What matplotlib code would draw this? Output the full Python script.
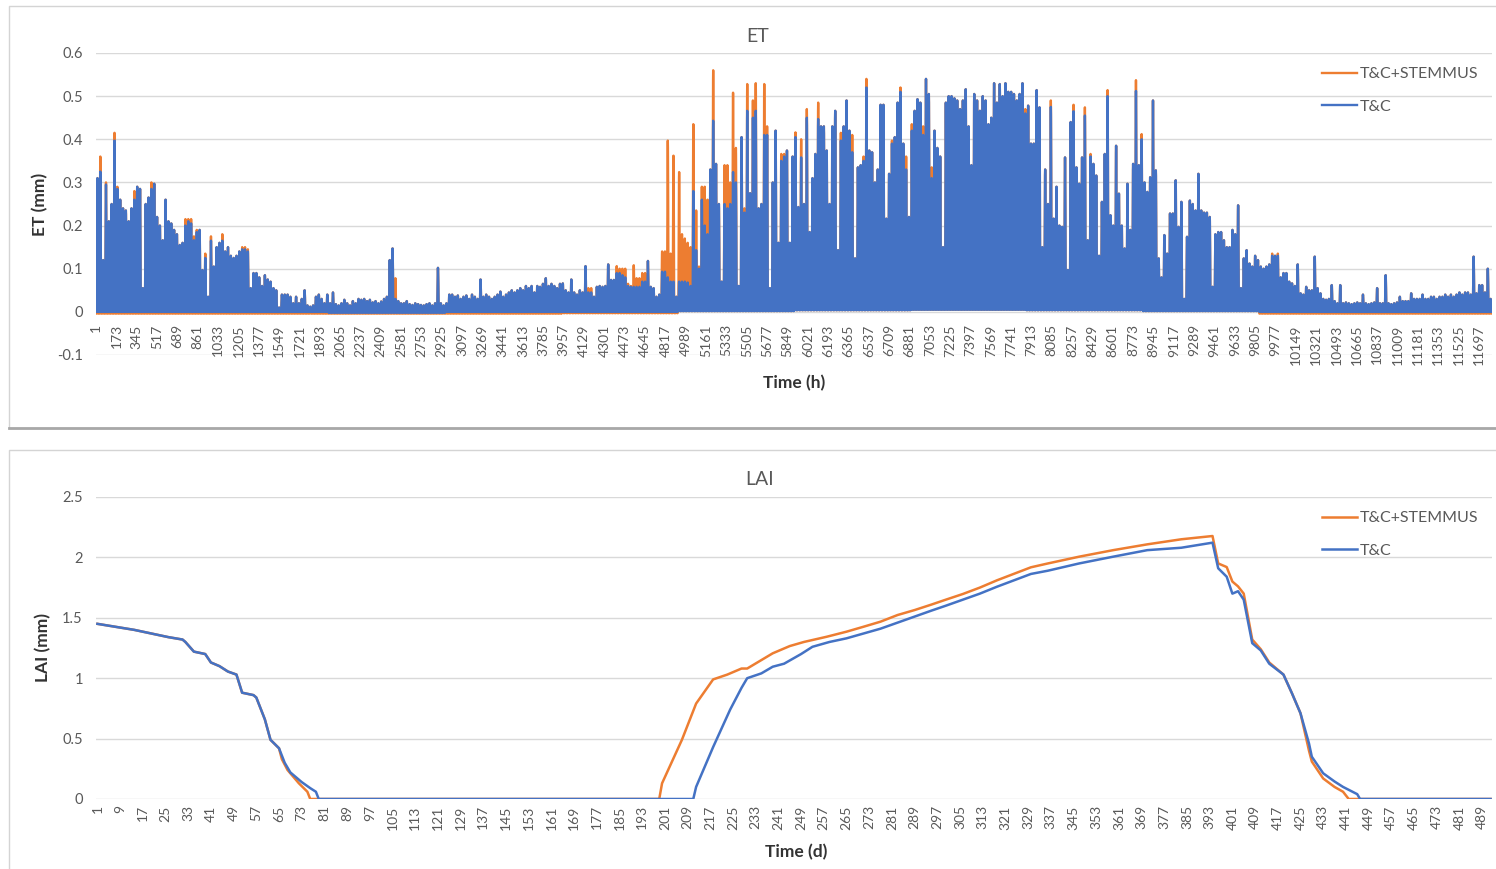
import numpy as np
import matplotlib
matplotlib.use("Agg")
import matplotlib.pyplot as plt
from matplotlib.patches import Rectangle
from matplotlib.lines import Line2D

plt.rcParams['font.family'] = ['Lato', 'DejaVu Sans']

ORANGE = '#ED7D31'
BLUE = '#4472C4'
GRID = '#D9D9D9'
TICK = '#595959'

series_names = ['T&C+STEMMUS', 'T&C']

# ---- ET: daily peak of hourly ET (mm), 492 days ----
et_tc_peak = [
    0.31, 0.325, 0.12, 0.295, 0.21, 0.25, 0.397, 0.285, 0.26, 0.24, 0.235, 0.21,
    0.24, 0.26, 0.29, 0.285, 0.055, 0.25, 0.265, 0.285, 0.297, 0.22, 0.2, 0.166,
    0.26, 0.21, 0.205, 0.19, 0.18, 0.155, 0.16, 0.2, 0.21, 0.205, 0.166, 0.185,
    0.19, 0.097, 0.125, 0.035, 0.165, 0.105, 0.15, 0.16, 0.165, 0.14, 0.15, 0.13,
    0.125, 0.13, 0.14, 0.145, 0.145, 0.14, 0.055, 0.09, 0.09, 0.08, 0.06, 0.085,
    0.075, 0.07, 0.055, 0.05, 0.01, 0.04, 0.04, 0.04, 0.035, 0.02, 0.035, 0.02,
    0.03, 0.05, 0.015, 0.012, 0.015, 0.035, 0.04, 0.03, 0.02, 0.04, 0.02, 0.045,
    0.018, 0.015, 0.02, 0.028, 0.02, 0.015, 0.025, 0.02, 0.03, 0.028, 0.03, 0.025,
    0.028, 0.022, 0.025, 0.02, 0.024, 0.03, 0.035, 0.12, 0.147, 0.03, 0.025, 0.02,
    0.02, 0.025, 0.018, 0.016, 0.02, 0.018, 0.016, 0.015, 0.018, 0.02, 0.015, 0.02,
    0.102, 0.02, 0.015, 0.02, 0.04, 0.04, 0.035, 0.038, 0.03, 0.035, 0.038, 0.03,
    0.04, 0.035, 0.03, 0.075, 0.035, 0.04, 0.035, 0.03, 0.035, 0.04, 0.047, 0.035,
    0.04, 0.045, 0.05, 0.045, 0.05, 0.055, 0.05, 0.06, 0.055, 0.06, 0.045, 0.06,
    0.058, 0.065, 0.078, 0.06, 0.065, 0.06, 0.055, 0.065, 0.066, 0.05, 0.045, 0.075,
    0.045, 0.04, 0.05, 0.045, 0.106, 0.045, 0.045, 0.035, 0.058, 0.06, 0.058, 0.06,
    0.11, 0.074, 0.074, 0.09, 0.09, 0.085, 0.08, 0.06, 0.058, 0.058, 0.058, 0.058,
    0.07, 0.07, 0.118, 0.058, 0.055, 0.035, 0.04, 0.093, 0.093, 0.08, 0.07, 0.07,
    0.035, 0.07, 0.07, 0.07, 0.068, 0.06, 0.28, 0.143, 0.1, 0.26, 0.2, 0.18,
    0.33, 0.443, 0.343, 0.25, 0.07, 0.25, 0.24, 0.25, 0.324, 0.3, 0.06, 0.405,
    0.23, 0.466, 0.275, 0.45, 0.466, 0.24, 0.25, 0.41, 0.41, 0.055, 0.3, 0.42,
    0.16, 0.35, 0.36, 0.374, 0.16, 0.36, 0.405, 0.243, 0.358, 0.25, 0.45, 0.185,
    0.31, 0.366, 0.447, 0.43, 0.43, 0.374, 0.25, 0.43, 0.466, 0.143, 0.397, 0.43,
    0.49, 0.42, 0.37, 0.124, 0.335, 0.34, 0.35, 0.52, 0.374, 0.37, 0.3, 0.33,
    0.48, 0.48, 0.216, 0.32, 0.39, 0.405, 0.485, 0.51, 0.39, 0.33, 0.22, 0.42,
    0.466, 0.493, 0.485, 0.41, 0.54, 0.505, 0.31, 0.42, 0.38, 0.36, 0.15, 0.485,
    0.5, 0.5, 0.495, 0.49, 0.47, 0.49, 0.516, 0.43, 0.34, 0.505, 0.49, 0.466,
    0.5, 0.49, 0.435, 0.45, 0.53, 0.485, 0.528, 0.5, 0.53, 0.51, 0.51, 0.505,
    0.49, 0.505, 0.53, 0.46, 0.478, 0.39, 0.39, 0.514, 0.474, 0.15, 0.33, 0.25,
    0.475, 0.216, 0.29, 0.2, 0.197, 0.358, 0.097, 0.44, 0.465, 0.335, 0.297, 0.358,
    0.455, 0.166, 0.36, 0.343, 0.316, 0.13, 0.255, 0.366, 0.5, 0.224, 0.2, 0.385,
    0.274, 0.2, 0.147, 0.297, 0.19, 0.343, 0.512, 0.34, 0.4, 0.3, 0.278, 0.312,
    0.49, 0.328, 0.124, 0.08, 0.178, 0.135, 0.228, 0.228, 0.305, 0.197, 0.255, 0.03,
    0.174, 0.258, 0.25, 0.235, 0.32, 0.235, 0.23, 0.23, 0.22, 0.058, 0.18, 0.185,
    0.185, 0.166, 0.15, 0.15, 0.19, 0.18, 0.247, 0.055, 0.124, 0.143, 0.112, 0.105,
    0.13, 0.12, 0.105, 0.1, 0.105, 0.11, 0.13, 0.13, 0.13, 0.08, 0.09, 0.09,
    0.07, 0.066, 0.06, 0.11, 0.043, 0.04, 0.058, 0.05, 0.05, 0.128, 0.055, 0.043,
    0.03, 0.028, 0.03, 0.062, 0.025, 0.02, 0.062, 0.02, 0.022, 0.02, 0.018, 0.02,
    0.022, 0.02, 0.04, 0.02, 0.018, 0.02, 0.022, 0.055, 0.02, 0.02, 0.085, 0.02,
    0.018, 0.02, 0.022, 0.035, 0.025, 0.025, 0.025, 0.043, 0.03, 0.03, 0.03, 0.04,
    0.03, 0.03, 0.035, 0.035, 0.03, 0.035, 0.035, 0.04, 0.035, 0.04, 0.035, 0.04,
    0.045, 0.04, 0.045, 0.045, 0.04, 0.128, 0.043, 0.062, 0.062, 0.045, 0.1, 0.03,
]

et_stemmus_peak = [
    0.31, 0.36, 0.12, 0.30, 0.21, 0.25, 0.415, 0.29, 0.26, 0.24, 0.235, 0.21,
    0.24, 0.28, 0.29, 0.285, 0.055, 0.25, 0.265, 0.30, 0.297, 0.22, 0.2, 0.166,
    0.26, 0.21, 0.205, 0.19, 0.18, 0.155, 0.16, 0.215, 0.215, 0.215, 0.175, 0.19,
    0.19, 0.097, 0.135, 0.035, 0.175, 0.105, 0.15, 0.16, 0.18, 0.14, 0.15, 0.13,
    0.125, 0.13, 0.14, 0.15, 0.15, 0.145, 0.055, 0.09, 0.09, 0.08, 0.06, 0.085,
    0.075, 0.07, 0.055, 0.05, 0.01, 0.04, 0.04, 0.04, 0.035, 0.02, 0.035, 0.02,
    0.03, 0.05, 0.015, 0.012, 0.015, 0.035, 0.04, 0.03, 0.02, 0.04, 0.02, 0.045,
    0.018, 0.015, 0.02, 0.028, 0.02, 0.015, 0.025, 0.02, 0.03, 0.028, 0.03, 0.025,
    0.028, 0.022, 0.025, 0.02, 0.024, 0.03, 0.035, 0.12, 0.147, 0.078, 0.025, 0.02,
    0.02, 0.025, 0.018, 0.016, 0.02, 0.018, 0.016, 0.015, 0.018, 0.02, 0.015, 0.02,
    0.102, 0.02, 0.015, 0.02, 0.04, 0.04, 0.035, 0.038, 0.03, 0.035, 0.038, 0.03,
    0.04, 0.035, 0.03, 0.075, 0.035, 0.04, 0.035, 0.03, 0.035, 0.04, 0.047, 0.035,
    0.04, 0.045, 0.05, 0.045, 0.05, 0.055, 0.05, 0.06, 0.055, 0.06, 0.045, 0.06,
    0.058, 0.065, 0.078, 0.06, 0.065, 0.06, 0.055, 0.065, 0.066, 0.05, 0.045, 0.075,
    0.045, 0.04, 0.05, 0.045, 0.106, 0.055, 0.055, 0.035, 0.058, 0.06, 0.058, 0.06,
    0.11, 0.074, 0.074, 0.106, 0.1, 0.1, 0.1, 0.065, 0.06, 0.108, 0.078, 0.078,
    0.09, 0.09, 0.118, 0.058, 0.055, 0.035, 0.04, 0.14, 0.14, 0.397, 0.135, 0.362,
    0.035, 0.324, 0.18, 0.17, 0.16, 0.15, 0.435, 0.235, 0.105, 0.29, 0.29, 0.26,
    0.33, 0.56, 0.343, 0.25, 0.07, 0.34, 0.34, 0.3, 0.508, 0.38, 0.06, 0.405,
    0.24, 0.528, 0.275, 0.49, 0.53, 0.24, 0.25, 0.528, 0.43, 0.055, 0.3, 0.42,
    0.16, 0.366, 0.366, 0.374, 0.16, 0.36, 0.416, 0.243, 0.40, 0.25, 0.47, 0.185,
    0.31, 0.366, 0.485, 0.43, 0.43, 0.374, 0.25, 0.43, 0.466, 0.143, 0.415, 0.43,
    0.49, 0.42, 0.41, 0.124, 0.335, 0.34, 0.36, 0.54, 0.374, 0.37, 0.3, 0.33,
    0.48, 0.48, 0.216, 0.32, 0.397, 0.405, 0.485, 0.52, 0.39, 0.36, 0.22, 0.435,
    0.466, 0.493, 0.485, 0.43, 0.54, 0.505, 0.335, 0.42, 0.38, 0.36, 0.15, 0.485,
    0.5, 0.5, 0.495, 0.49, 0.47, 0.49, 0.516, 0.43, 0.34, 0.505, 0.49, 0.466,
    0.5, 0.49, 0.435, 0.45, 0.53, 0.485, 0.528, 0.5, 0.53, 0.51, 0.51, 0.505,
    0.49, 0.505, 0.53, 0.47, 0.478, 0.39, 0.39, 0.514, 0.474, 0.15, 0.33, 0.25,
    0.49, 0.216, 0.29, 0.2, 0.197, 0.358, 0.097, 0.44, 0.48, 0.335, 0.297, 0.358,
    0.474, 0.166, 0.366, 0.343, 0.316, 0.13, 0.255, 0.366, 0.514, 0.224, 0.2, 0.385,
    0.274, 0.2, 0.147, 0.297, 0.19, 0.343, 0.537, 0.34, 0.412, 0.3, 0.278, 0.312,
    0.49, 0.328, 0.124, 0.08, 0.178, 0.135, 0.228, 0.228, 0.305, 0.197, 0.255, 0.03,
    0.174, 0.258, 0.25, 0.235, 0.32, 0.235, 0.23, 0.23, 0.22, 0.058, 0.18, 0.185,
    0.185, 0.166, 0.15, 0.15, 0.19, 0.18, 0.247, 0.055, 0.124, 0.143, 0.112, 0.105,
    0.13, 0.12, 0.105, 0.1, 0.105, 0.11, 0.135, 0.13, 0.135, 0.08, 0.09, 0.09,
    0.07, 0.066, 0.06, 0.11, 0.043, 0.04, 0.058, 0.05, 0.05, 0.128, 0.055, 0.043,
    0.03, 0.028, 0.03, 0.062, 0.025, 0.02, 0.062, 0.02, 0.022, 0.02, 0.018, 0.02,
    0.022, 0.02, 0.04, 0.02, 0.018, 0.02, 0.022, 0.055, 0.02, 0.02, 0.085, 0.02,
    0.018, 0.02, 0.022, 0.035, 0.025, 0.025, 0.025, 0.043, 0.03, 0.03, 0.03, 0.04,
    0.03, 0.03, 0.035, 0.035, 0.03, 0.035, 0.035, 0.04, 0.035, 0.04, 0.035, 0.04,
    0.045, 0.04, 0.045, 0.045, 0.04, 0.128, 0.043, 0.062, 0.062, 0.045, 0.1, 0.03,
]

# night-time ET level, one value per 41-day block
et_tc_night = [0.0, 0.0, -0.002, 0.0, 0.0, 0.002, 0.004, 0.005, 0.004, 0.002, 0.0, 0.0]
et_stemmus_night = [-0.004, -0.004, -0.004, -0.004, -0.003, 0.002, 0.004, 0.005,
                    0.004, 0.002, -0.004, -0.004]

# fraction of the daily peak reached in each hour of the day
diurnal_shape = [0, 0, 0, 0, 0, 0, 0.04, 0.18, 0.42, 0.66, 0.85, 0.96,
                 1.0, 0.96, 0.85, 0.66, 0.42, 0.18, 0.04, 0, 0, 0, 0, 0]

# ---- LAI: daily series given at its breakpoints ----
lai_tc_day = [1, 14, 26, 31, 32, 35, 39, 41, 44, 47, 50, 52, 56, 57, 60, 62, 65, 67,
              69, 73, 76, 78, 79, 211, 212, 218, 224, 228, 230, 235, 239, 243, 249,
              253, 259, 265, 271, 277, 283, 289, 295, 300, 306, 312, 318, 330, 336,
              347, 359, 371, 383, 394, 396, 399, 401, 403, 405, 408, 411, 414, 419,
              422, 425, 428, 429, 433, 437, 440, 445, 446, 492]
lai_tc = [1.45, 1.40, 1.34, 1.32, 1.30, 1.22, 1.20, 1.13, 1.10, 1.055, 1.03, 0.88,
          0.86, 0.84, 0.66, 0.49, 0.42, 0.30, 0.22, 0.14, 0.09, 0.06, 0.0, 0.0, 0.1,
          0.43, 0.74, 0.92, 1.0, 1.04, 1.095, 1.12, 1.2, 1.26, 1.3, 1.33, 1.37, 1.41,
          1.46, 1.51, 1.56, 1.6, 1.65, 1.7, 1.757, 1.863, 1.89, 1.95, 2.006, 2.06,
          2.08, 2.122, 1.91, 1.84, 1.70, 1.72, 1.65, 1.29, 1.23, 1.12, 1.03, 0.875,
          0.71, 0.46, 0.35, 0.213, 0.145, 0.1, 0.04, 0.0, 0.0]

lai_stemmus_day = [1, 14, 26, 31, 32, 35, 39, 41, 44, 47, 50, 52, 56, 57, 60, 62, 65,
                   66, 68, 72, 75, 76, 199, 200, 207, 212, 218, 223, 228, 230, 235,
                   239, 245, 250, 258, 265, 271, 277, 283, 289, 295, 300, 306, 312,
                   318, 330, 336, 347, 359, 371, 383, 394, 396, 399, 401, 403, 405,
                   408, 411, 414, 419, 422, 425, 428, 429, 433, 437, 440, 442, 492]
lai_stemmus = [1.45, 1.40, 1.34, 1.32, 1.30, 1.22, 1.20, 1.13, 1.10, 1.055, 1.03,
               0.88, 0.86, 0.84, 0.66, 0.49, 0.42, 0.33, 0.24, 0.13, 0.06, 0.0, 0.0,
               0.13, 0.49, 0.79, 0.99, 1.03, 1.08, 1.08, 1.15, 1.206, 1.266, 1.30,
               1.343, 1.385, 1.426, 1.468, 1.523, 1.564, 1.61, 1.65, 1.697, 1.75,
               1.81, 1.918, 1.95, 2.006, 2.06, 2.108, 2.15, 2.177, 1.95, 1.92, 1.80,
               1.76, 1.70, 1.32, 1.24, 1.13, 1.03, 0.875, 0.71, 0.40, 0.31, 0.17,
               0.1, 0.06, 0.0, 0.0]

n_days = len(et_tc_peak)
n_hours = n_days * 24


def hourly(peaks, night):
    peaks = np.asarray(peaks)
    base = np.repeat(night, n_days // len(night))
    shape = np.asarray(diurnal_shape)
    return (base[:, None] + (peaks - base)[:, None] * shape[None, :]).ravel()


et_tc = hourly(et_tc_peak, et_tc_night)
et_stemmus = hourly(et_stemmus_peak, et_stemmus_night)
hours = np.arange(1, n_hours + 1)

W, H = 1496, 869
fig = plt.figure(figsize=(W / 100, H / 100), dpi=100)


def box(px_left, px_top, px_right, px_bottom):
    return [px_left / W, 1 - px_bottom / H, (px_right - px_left) / W, (px_bottom - px_top) / H]


# chart frames
fig.add_artist(Rectangle((9 / W, 1 - 428 / H), 1.0, (428 - 6) / H, transform=fig.transFigure,
                         fill=False, edgecolor='#D4D4D4', lw=1.0))
fig.add_artist(Line2D([9 / W, 1.0], [1 - 428 / H] * 2, transform=fig.transFigure,
                      color='#A8A8A8', lw=2.0))
fig.add_artist(Rectangle((9 / W, -0.01), 1.0, 0.01 + 1 - 450 / H, transform=fig.transFigure,
                         fill=False, edgecolor='#D4D4D4', lw=1.0))


def style_axes(ax, yticks, ylabels, xticks, xpad):
    for s in ax.spines.values():
        s.set_visible(False)
    ax.spines['bottom'].set_position(('data', 0))
    ax.set_yticks(yticks)
    ax.set_yticklabels(ylabels)
    ax.set_xticks(xticks)
    ax.set_xticklabels([str(t) for t in xticks], rotation=90)
    ax.tick_params(axis='y', length=0, pad=9.5, labelsize=10.5, labelcolor=TICK)
    ax.tick_params(axis='x', length=0, pad=xpad, labelsize=10, labelcolor=TICK)
    ax.grid(axis='y', color=GRID, lw=1.0)
    ax.set_axisbelow(True)


def add_legend(ax, px_top):
    ax.legend(loc='upper left', bbox_to_anchor=(1322 / W, 1 - px_top / H),
              bbox_transform=fig.transFigure, frameon=False, fontsize=11.5,
              handlelength=2.2, handletextpad=0.15, labelspacing=1.17,
              borderpad=0, borderaxespad=0, labelcolor=TICK)


# ---- ET panel ----
ax1 = fig.add_axes(box(96, 53, 1492, 355))
ax1.plot(hours, et_stemmus, color=ORANGE, lw=1.7, solid_joinstyle='round', zorder=2,
         label=series_names[0])
ax1.plot(hours, et_tc, color=BLUE, lw=1.7, solid_joinstyle='round', zorder=3,
         label=series_names[1])
ax1.set_xlim(0.5, n_hours + 0.5)
ax1.set_ylim(-0.1, 0.6)
style_axes(ax1, np.round(np.arange(-0.1, 0.61, 0.1), 1),
           ['-0.1', '0', '0.1', '0.2', '0.3', '0.4', '0.5', '0.6'],
           list(range(1, n_hours + 1, 172)), 9)
add_legend(ax1, 67)

fig.text(758 / W, 1 - 36 / H, 'ET', ha='center', va='center', fontsize=14, color=TICK)
fig.text(794 / W, 1 - 383 / H, 'Time (h)', ha='center', va='center', fontsize=12.5,
         fontweight='bold', color='#333333')
fig.text(40 / W, 1 - 204 / H, 'ET (mm)', ha='center', va='center', rotation=90,
         fontsize=12.5, fontweight='bold', color='#333333')

# ---- LAI panel ----
ax2 = fig.add_axes(box(96, 497, 1492, 799))
ax2.plot(lai_stemmus_day, lai_stemmus, color=ORANGE, lw=1.8, solid_joinstyle='round',
         zorder=2, label=series_names[0])
ax2.plot(lai_tc_day, lai_tc, color=BLUE, lw=1.8, solid_joinstyle='round', zorder=3,
         label=series_names[1])
ax2.set_xlim(0.5, n_days + 0.5)
ax2.set_ylim(0, 2.5)
style_axes(ax2, [0, 0.5, 1, 1.5, 2, 2.5], ['0', '0.5', '1', '1.5', '2', '2.5'],
           list(range(1, n_days + 1, 8)), 4.5)
add_legend(ax2, 511)

fig.text(760 / W, 1 - 480 / H, 'LAI', ha='center', va='center', fontsize=14, color=TICK)
fig.text(796 / W, 1 - 852 / H, 'Time (d)', ha='center', va='center', fontsize=12.5,
         fontweight='bold', color='#333333')
fig.text(43 / W, 1 - 648 / H, 'LAI (mm)', ha='center', va='center', rotation=90,
         fontsize=12.5, fontweight='bold', color='#333333')

fig.savefig('out.png', dpi=100)
